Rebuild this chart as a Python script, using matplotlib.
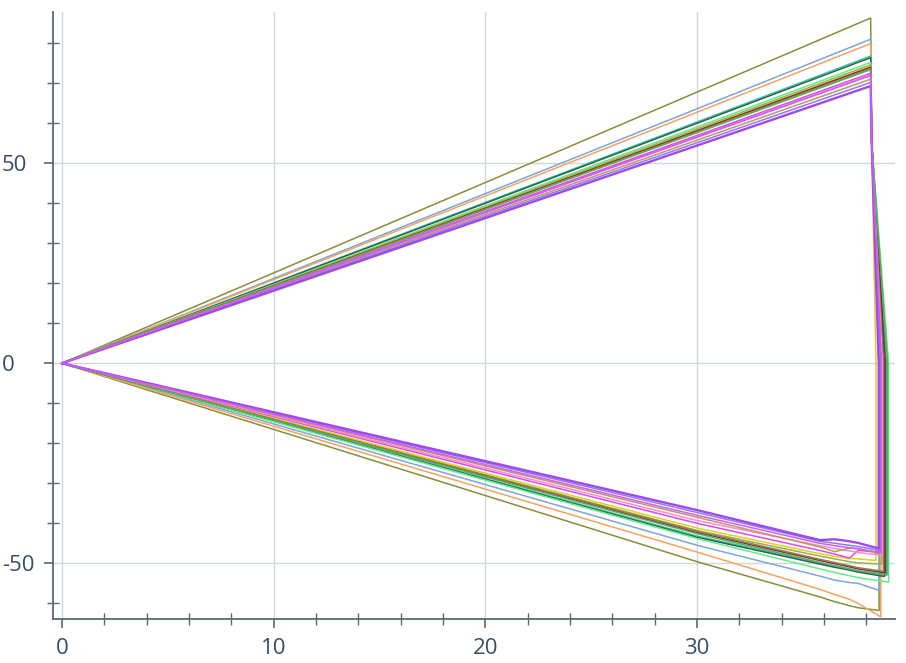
"""
Loop curves: linear rise to ~38 then a sharp drop and a linear return to the origin
"""
import matplotlib
matplotlib.use('Agg')
import matplotlib.pyplot as plt
from matplotlib.ticker import MultipleLocator

plt.rcParams['font.family'] = ['Open Sans', 'DejaVu Sans']
plt.rcParams['axes.unicode_minus'] = False

# upper branch end (x = 38.2) for every curve
top_y = [86.3, 81.0, 79.9, 76.8, 76.4, 75.2, 74.6, 74.2, 74.0, 73.6, 73.4, 72.5, 71.9, 71.0, 70.2, 69.3, 72.0]
# x of the near-vertical drop and the y of the lower corner
drop_x = [38.60, 38.62, 38.68, 38.95, 38.85, 39.05, 38.72, 38.45, 38.90, 38.80, 39.00, 38.66, 38.75, 38.60, 38.70, 38.58, 38.70]
corner_y = [-61.8, -56.8, -63.4, -53.0, -53.3, -54.7, -50.2, -49.3, -52.4, -52.0, -52.8, -47.2, -48.0, -47.6, -46.9, -46.3, -47.4]
# lower branch values at x = 30, 35.8, 36.5, 37.2, 37.6
lower_x = [30, 35.8, 36.5, 37.2, 37.6]
lo_30 = [-49.6, -45.5, -47.2, -43.2, -43.5, -43.8, -41.8, -41.2, -42.3, -42.0, -42.6, -40.0, -39.3, -38.5, -37.3, -36.7, -38.0]
lo_358 = [-58.4, -53.2, -56.5, -49.9, -50.2, -51.4, -48.2, -47.6, -49.3, -49.0, -49.8, -46.8, -45.6, -45.9, -44.5, -44.2, -45.0]
lo_365 = [-59.6, -54.2, -57.8, -50.7, -51.0, -52.3, -48.9, -48.3, -50.1, -49.8, -50.6, -47.7, -46.3, -47.1, -45.0, -44.0, -45.6]
lo_372 = [-60.6, -54.8, -59.0, -51.4, -51.7, -53.1, -49.6, -48.8, -50.9, -50.6, -51.4, -48.7, -46.9, -46.2, -45.5, -44.5, -46.1]
lo_376 = [-61.1, -55.0, -60.0, -51.9, -52.2, -53.6, -49.9, -48.9, -51.4, -51.1, -51.9, -46.8, -47.3, -46.3, -45.8, -44.9, -46.4]

colors = ['#8c8c3c', '#7ea6d8', '#f4a462', '#3cc8a0', '#2e6050', '#64ec8c', '#9cae4a', '#d8d228',
          '#7a2e4c', '#a07848', '#58b058', '#e448e4', '#f48cd4', '#c8906c', '#8a7cf4', '#a048f0', '#c860ec']

fig = plt.figure(figsize=(9.06, 6.63), dpi=100)
ax = fig.add_axes([53.3 / 906, (663 - 619.3) / 663, (895 - 53.3) / 906, (619.3 - 12) / 663])

for i in range(len(top_y)):
    xs = [0, 38.2, 38.25, drop_x[i], drop_x[i]]
    ys = [0, top_y[i], 55, 0, corner_y[i]]
    lows = [lo_376[i], lo_372[i], lo_365[i], lo_358[i], lo_30[i], 0]
    xs += lower_x[::-1] + [0]
    ys += lows
    lw = 1.7 if i == 15 else 1.1
    ax.plot(xs, ys, color=colors[i], lw=lw, solid_joinstyle='round')

ax.set_xlim(-0.41, 39.35)
ax.set_ylim(-64, 87.8)

ax.xaxis.set_major_locator(MultipleLocator(10))
ax.xaxis.set_minor_locator(MultipleLocator(2))
ax.yaxis.set_major_locator(MultipleLocator(50))
ax.yaxis.set_minor_locator(MultipleLocator(10))

spine_c = '#5a6a70'
for s in ['top', 'right']:
    ax.spines[s].set_visible(False)
for s in ['left', 'bottom']:
    ax.spines[s].set_color(spine_c)
    ax.spines[s].set_linewidth(1.3)

ax.grid(True, which='major', color='#cdd8dc', lw=1.0)
ax.set_axisbelow(True)

lab_c = '#3a4e66'
ax.tick_params(which='major', direction='out', length=6.5, width=1.2, color=spine_c,
               labelsize=16, labelcolor=lab_c)
ax.tick_params(which='minor', direction='inout', length=8.5, width=1.0, color=spine_c)
ax.tick_params(axis='x', which='major', pad=7)
ax.tick_params(axis='y', which='major', pad=30.4)
for lbl in ax.get_yticklabels():
    lbl.set_horizontalalignment('left')

plt.savefig('out.png', dpi=100)
plt.close()
